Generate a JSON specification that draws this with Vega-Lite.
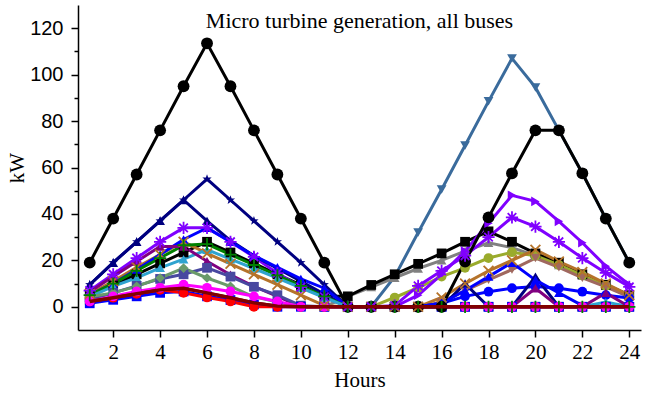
{
"$schema": "https://vega.github.io/schema/vega-lite/v6.json",
"width": 563, "height": 325,
"autosize": {"type": "none"},
"padding": {"left": 78, "top": 5, "right": 15, "bottom": 63},
"background": "white",
"title": {"text": "Micro turbine generation, all buses", "font": "Liberation Serif", "fontSize": 22, "fontWeight": "normal", "color": "black", "anchor": "middle", "frame": "group", "offset": -27, "dy": 18, "baseline": "alphabetic"},
"config": {"view": {"stroke": null}, "axis": {"grid": false, "domainColor": "black", "domainWidth": 1.5, "tickColor": "black", "tickWidth": 1.5, "labelColor": "black", "titleColor": "black"}},
"data": {"values": [
{"s":"SB","h":12,"v":0},{"s":"SB","h":13,"v":0},{"s":"SB","h":14,"v":13},{"s":"SB","h":15,"v":32},{"s":"SB","h":16,"v":50.5},{"s":"SB","h":17,"v":69.5},{"s":"SB","h":18,"v":88.5},{"s":"SB","h":19,"v":107},{"s":"SB","h":20,"v":94.5},{"s":"SB","h":21,"v":76},{"s":"SB","h":22,"v":57.5},{"s":"SB","h":23,"v":38},{"s":"SB","h":24,"v":19},
{"s":"GT","h":11,"v":0},{"s":"GT","h":12,"v":4.5},{"s":"GT","h":13,"v":8.5},{"s":"GT","h":14,"v":12.5},{"s":"GT","h":15,"v":16.5},{"s":"GT","h":16,"v":20},{"s":"GT","h":17,"v":24},{"s":"GT","h":18,"v":27.6},{"s":"GT","h":19,"v":25.5},{"s":"GT","h":20,"v":22},{"s":"GT","h":21,"v":18},{"s":"GT","h":22,"v":13.5},{"s":"GT","h":23,"v":9},{"s":"GT","h":24,"v":4.5},
{"s":"KS","h":1,"v":4.7},{"s":"KS","h":2,"v":9.4},{"s":"KS","h":3,"v":14},{"s":"KS","h":4,"v":18.7},{"s":"KS","h":5,"v":23.4},{"s":"KS","h":6,"v":28},{"s":"KS","h":7,"v":23.4},{"s":"KS","h":8,"v":18.7},{"s":"KS","h":9,"v":14},{"s":"KS","h":10,"v":9.4},{"s":"KS","h":11,"v":4.7},{"s":"KS","h":12,"v":4.5},{"s":"KS","h":13,"v":9.4},{"s":"KS","h":14,"v":14},{"s":"KS","h":15,"v":18.5},{"s":"KS","h":16,"v":23},{"s":"KS","h":17,"v":28},{"s":"KS","h":18,"v":32.5},{"s":"KS","h":19,"v":28},{"s":"KS","h":20,"v":23},{"s":"KS","h":21,"v":19},{"s":"KS","h":22,"v":14},{"s":"KS","h":23,"v":9.5},{"s":"KS","h":24,"v":5},
{"s":"OL","h":12,"v":0},{"s":"OL","h":13,"v":0},{"s":"OL","h":14,"v":4},{"s":"OL","h":15,"v":8.2},{"s":"OL","h":16,"v":13},{"s":"OL","h":17,"v":16.8},{"s":"OL","h":18,"v":21},{"s":"OL","h":19,"v":23.5},{"s":"OL","h":20,"v":22},{"s":"OL","h":21,"v":18},{"s":"OL","h":22,"v":13.5},{"s":"OL","h":23,"v":9},{"s":"OL","h":24,"v":4.5},
{"s":"RB","h":12,"v":0},{"s":"RB","h":13,"v":0},{"s":"RB","h":14,"v":0},{"s":"RB","h":15,"v":0},{"s":"RB","h":16,"v":2},{"s":"RB","h":17,"v":7},{"s":"RB","h":18,"v":11.6},{"s":"RB","h":19,"v":16},{"s":"RB","h":20,"v":21},{"s":"RB","h":21,"v":17},{"s":"RB","h":22,"v":12.5},{"s":"RB","h":23,"v":8.6},{"s":"RB","h":24,"v":4.3},
{"s":"BR","h":1,"v":5.6},{"s":"BR","h":2,"v":11},{"s":"BR","h":3,"v":17},{"s":"BR","h":4,"v":22.5},{"s":"BR","h":5,"v":28},{"s":"BR","h":6,"v":23},{"s":"BR","h":7,"v":18.5},{"s":"BR","h":8,"v":14},{"s":"BR","h":9,"v":9.5},{"s":"BR","h":10,"v":5},{"s":"BR","h":11,"v":0.5},{"s":"BR","h":12,"v":0},{"s":"BR","h":13,"v":0},{"s":"BR","h":14,"v":0},{"s":"BR","h":15,"v":0},{"s":"BR","h":16,"v":4},{"s":"BR","h":17,"v":10},{"s":"BR","h":18,"v":15.5},{"s":"BR","h":19,"v":20},{"s":"BR","h":20,"v":24.6},{"s":"BR","h":21,"v":19.5},{"s":"BR","h":22,"v":15},{"s":"BR","h":23,"v":10},{"s":"BR","h":24,"v":5},
{"s":"BC","h":12,"v":0},{"s":"BC","h":13,"v":0},{"s":"BC","h":14,"v":0},{"s":"BC","h":15,"v":0},{"s":"BC","h":16,"v":1.5},{"s":"BC","h":17,"v":4.5},{"s":"BC","h":18,"v":6.5},{"s":"BC","h":19,"v":8},{"s":"BC","h":20,"v":8.7},{"s":"BC","h":21,"v":8},{"s":"BC","h":22,"v":6.5},{"s":"BC","h":23,"v":5},{"s":"BC","h":24,"v":3.8},
{"s":"VT","h":12,"v":0},{"s":"VT","h":13,"v":0},{"s":"VT","h":14,"v":0},{"s":"VT","h":15,"v":5},{"s":"VT","h":16,"v":14},{"s":"VT","h":17,"v":24},{"s":"VT","h":18,"v":36},{"s":"VT","h":19,"v":48},{"s":"VT","h":20,"v":45.4},{"s":"VT","h":21,"v":36.8},{"s":"VT","h":22,"v":27.6},{"s":"VT","h":23,"v":17.5},{"s":"VT","h":24,"v":9.5},
{"s":"VA","h":1,"v":7},{"s":"VA","h":2,"v":14},{"s":"VA","h":3,"v":21},{"s":"VA","h":4,"v":28},{"s":"VA","h":5,"v":34},{"s":"VA","h":6,"v":34},{"s":"VA","h":7,"v":28},{"s":"VA","h":8,"v":21.5},{"s":"VA","h":9,"v":14.5},{"s":"VA","h":10,"v":8.5},{"s":"VA","h":11,"v":4.3},{"s":"VA","h":12,"v":0},{"s":"VA","h":13,"v":0},{"s":"VA","h":14,"v":0.5},{"s":"VA","h":15,"v":9},{"s":"VA","h":16,"v":15.5},{"s":"VA","h":17,"v":22},{"s":"VA","h":18,"v":30},{"s":"VA","h":19,"v":38.5},{"s":"VA","h":20,"v":34.5},{"s":"VA","h":21,"v":28},{"s":"VA","h":22,"v":21},{"s":"VA","h":23,"v":14.6},{"s":"VA","h":24,"v":8.6},
{"s":"NS","h":1,"v":9.5},{"s":"NS","h":2,"v":19},{"s":"NS","h":3,"v":28},{"s":"NS","h":4,"v":37},{"s":"NS","h":5,"v":46},{"s":"NS","h":6,"v":55},{"s":"NS","h":7,"v":46},{"s":"NS","h":8,"v":37},{"s":"NS","h":9,"v":28},{"s":"NS","h":10,"v":19},{"s":"NS","h":11,"v":9.5},{"s":"NS","h":12,"v":0},{"s":"NS","h":13,"v":0},{"s":"NS","h":14,"v":0},{"s":"NS","h":15,"v":0},{"s":"NS","h":16,"v":0},{"s":"NS","h":17,"v":0},{"s":"NS","h":18,"v":0},{"s":"NS","h":19,"v":0},{"s":"NS","h":20,"v":0},{"s":"NS","h":21,"v":0},{"s":"NS","h":22,"v":0},{"s":"NS","h":23,"v":0},{"s":"NS","h":24,"v":0},
{"s":"N2","h":1,"v":9.5},{"s":"N2","h":2,"v":19},{"s":"N2","h":3,"v":28},{"s":"N2","h":4,"v":37},{"s":"N2","h":5,"v":46},{"s":"N2","h":6,"v":37},{"s":"N2","h":7,"v":28.5},{"s":"N2","h":8,"v":22},{"s":"N2","h":9,"v":16.5},{"s":"N2","h":10,"v":11},{"s":"N2","h":11,"v":5.5},{"s":"N2","h":12,"v":0},{"s":"N2","h":13,"v":0},{"s":"N2","h":14,"v":0},{"s":"N2","h":15,"v":0},{"s":"N2","h":16,"v":0},{"s":"N2","h":17,"v":10},{"s":"N2","h":18,"v":0},{"s":"N2","h":19,"v":0},{"s":"N2","h":20,"v":13},{"s":"N2","h":21,"v":0},{"s":"N2","h":22,"v":0},{"s":"N2","h":23,"v":0},{"s":"N2","h":24,"v":0},
{"s":"BT","h":1,"v":5},{"s":"BT","h":2,"v":10},{"s":"BT","h":3,"v":16},{"s":"BT","h":4,"v":22.5},{"s":"BT","h":5,"v":29},{"s":"BT","h":6,"v":34},{"s":"BT","h":7,"v":28},{"s":"BT","h":8,"v":22},{"s":"BT","h":9,"v":17},{"s":"BT","h":10,"v":12},{"s":"BT","h":11,"v":8},{"s":"BT","h":12,"v":0},{"s":"BT","h":13,"v":0},{"s":"BT","h":14,"v":0},{"s":"BT","h":15,"v":0},{"s":"BT","h":16,"v":1.5},{"s":"BT","h":17,"v":7},{"s":"BT","h":18,"v":13},{"s":"BT","h":19,"v":19},{"s":"BT","h":20,"v":11.5},{"s":"BT","h":21,"v":6},{"s":"BT","h":22,"v":0.5},{"s":"BT","h":23,"v":0},{"s":"BT","h":24,"v":0},
{"s":"GR","h":1,"v":5},{"s":"GR","h":2,"v":10},{"s":"GR","h":3,"v":15.5},{"s":"GR","h":4,"v":21},{"s":"GR","h":5,"v":26.5},{"s":"GR","h":6,"v":27},{"s":"GR","h":7,"v":22.5},{"s":"GR","h":8,"v":18},{"s":"GR","h":9,"v":13.5},{"s":"GR","h":10,"v":9},{"s":"GR","h":11,"v":4.5},{"s":"GR","h":12,"v":0},{"s":"GR","h":13,"v":0},{"s":"GR","h":14,"v":0},{"s":"GR","h":15,"v":0},{"s":"GR","h":16,"v":0},{"s":"GR","h":17,"v":0},{"s":"GR","h":18,"v":0},{"s":"GR","h":19,"v":0},{"s":"GR","h":20,"v":0},{"s":"GR","h":21,"v":0},{"s":"GR","h":22,"v":0},{"s":"GR","h":23,"v":0},{"s":"GR","h":24,"v":0},
{"s":"CY","h":1,"v":4.3},{"s":"CY","h":2,"v":8.8},{"s":"CY","h":3,"v":12.5},{"s":"CY","h":4,"v":16.8},{"s":"CY","h":5,"v":20.5},{"s":"CY","h":6,"v":24.6},{"s":"CY","h":7,"v":20.5},{"s":"CY","h":8,"v":16.5},{"s":"CY","h":9,"v":12.3},{"s":"CY","h":10,"v":8.2},{"s":"CY","h":11,"v":4},{"s":"CY","h":12,"v":0},{"s":"CY","h":13,"v":0},{"s":"CY","h":14,"v":0},{"s":"CY","h":15,"v":0},{"s":"CY","h":16,"v":0},{"s":"CY","h":17,"v":0},{"s":"CY","h":18,"v":0},{"s":"CY","h":19,"v":0},{"s":"CY","h":20,"v":0},{"s":"CY","h":21,"v":0},{"s":"CY","h":22,"v":0},{"s":"CY","h":23,"v":2},{"s":"CY","h":24,"v":0},
{"s":"PU","h":1,"v":6.5},{"s":"PU","h":2,"v":13},{"s":"PU","h":3,"v":19.5},{"s":"PU","h":4,"v":26},{"s":"PU","h":5,"v":26},{"s":"PU","h":6,"v":19.6},{"s":"PU","h":7,"v":13.8},{"s":"PU","h":8,"v":8.8},{"s":"PU","h":9,"v":4.5},{"s":"PU","h":10,"v":0},{"s":"PU","h":11,"v":0},{"s":"PU","h":12,"v":0},{"s":"PU","h":13,"v":0},{"s":"PU","h":14,"v":0},{"s":"PU","h":15,"v":0},{"s":"PU","h":16,"v":0},{"s":"PU","h":17,"v":0},{"s":"PU","h":18,"v":0},{"s":"PU","h":19,"v":0},{"s":"PU","h":20,"v":8},{"s":"PU","h":21,"v":0},{"s":"PU","h":22,"v":0},{"s":"PU","h":23,"v":6},{"s":"PU","h":24,"v":0},
{"s":"SL","h":1,"v":3},{"s":"SL","h":2,"v":6},{"s":"SL","h":3,"v":9},{"s":"SL","h":4,"v":12},{"s":"SL","h":5,"v":14},{"s":"SL","h":6,"v":16.8},{"s":"SL","h":7,"v":13},{"s":"SL","h":8,"v":8.6},{"s":"SL","h":9,"v":5},{"s":"SL","h":10,"v":0.5},{"s":"SL","h":11,"v":0},{"s":"SL","h":12,"v":0},{"s":"SL","h":13,"v":0},{"s":"SL","h":14,"v":0},{"s":"SL","h":15,"v":0},{"s":"SL","h":16,"v":0},{"s":"SL","h":17,"v":0},{"s":"SL","h":18,"v":0},{"s":"SL","h":19,"v":0},{"s":"SL","h":20,"v":0},{"s":"SL","h":21,"v":0},{"s":"SL","h":22,"v":0},{"s":"SL","h":23,"v":0},{"s":"SL","h":24,"v":0},
{"s":"GD","h":1,"v":4.3},{"s":"GD","h":2,"v":6},{"s":"GD","h":3,"v":8.8},{"s":"GD","h":4,"v":12.4},{"s":"GD","h":5,"v":16.7},{"s":"GD","h":6,"v":12.4},{"s":"GD","h":7,"v":8.8},{"s":"GD","h":8,"v":4.3},{"s":"GD","h":9,"v":2},{"s":"GD","h":10,"v":0},{"s":"GD","h":11,"v":0},{"s":"GD","h":12,"v":0},{"s":"GD","h":13,"v":0},{"s":"GD","h":14,"v":0},{"s":"GD","h":15,"v":0},{"s":"GD","h":16,"v":0},{"s":"GD","h":17,"v":0},{"s":"GD","h":18,"v":0},{"s":"GD","h":19,"v":0},{"s":"GD","h":20,"v":0},{"s":"GD","h":21,"v":0},{"s":"GD","h":22,"v":0},{"s":"GD","h":23,"v":0},{"s":"GD","h":24,"v":0},
{"s":"BS","h":1,"v":1.5},{"s":"BS","h":2,"v":3},{"s":"BS","h":3,"v":4.5},{"s":"BS","h":4,"v":6},{"s":"BS","h":5,"v":6.6},{"s":"BS","h":6,"v":4.5},{"s":"BS","h":7,"v":2.9},{"s":"BS","h":8,"v":1},{"s":"BS","h":9,"v":0},{"s":"BS","h":10,"v":0},{"s":"BS","h":11,"v":0},{"s":"BS","h":12,"v":0},{"s":"BS","h":13,"v":0},{"s":"BS","h":14,"v":0},{"s":"BS","h":15,"v":0},{"s":"BS","h":16,"v":0},{"s":"BS","h":17,"v":0},{"s":"BS","h":18,"v":0},{"s":"BS","h":19,"v":0},{"s":"BS","h":20,"v":0},{"s":"BS","h":21,"v":0},{"s":"BS","h":22,"v":0},{"s":"BS","h":23,"v":0},{"s":"BS","h":24,"v":0},
{"s":"RD","h":1,"v":2.3},{"s":"RD","h":2,"v":3.9},{"s":"RD","h":3,"v":5.6},{"s":"RD","h":4,"v":7.3},{"s":"RD","h":5,"v":6},{"s":"RD","h":6,"v":4},{"s":"RD","h":7,"v":2.3},{"s":"RD","h":8,"v":0},{"s":"RD","h":9,"v":0},{"s":"RD","h":10,"v":0},{"s":"RD","h":11,"v":0},{"s":"RD","h":12,"v":0},{"s":"RD","h":13,"v":0},{"s":"RD","h":14,"v":0},{"s":"RD","h":15,"v":0},{"s":"RD","h":16,"v":0},{"s":"RD","h":17,"v":0},{"s":"RD","h":18,"v":0},{"s":"RD","h":19,"v":0},{"s":"RD","h":20,"v":0},{"s":"RD","h":21,"v":0},{"s":"RD","h":22,"v":0},{"s":"RD","h":23,"v":0},{"s":"RD","h":24,"v":0},
{"s":"MG","h":1,"v":2.3},{"s":"MG","h":2,"v":4.5},{"s":"MG","h":3,"v":6.6},{"s":"MG","h":4,"v":8.2},{"s":"MG","h":5,"v":9.5},{"s":"MG","h":6,"v":8.2},{"s":"MG","h":7,"v":6.6},{"s":"MG","h":8,"v":4.5},{"s":"MG","h":9,"v":2.3},{"s":"MG","h":10,"v":0},{"s":"MG","h":11,"v":0},{"s":"MG","h":12,"v":0},{"s":"MG","h":13,"v":0},{"s":"MG","h":14,"v":0},{"s":"MG","h":15,"v":0},{"s":"MG","h":16,"v":0},{"s":"MG","h":17,"v":0},{"s":"MG","h":18,"v":0},{"s":"MG","h":19,"v":0},{"s":"MG","h":20,"v":0},{"s":"MG","h":21,"v":0},{"s":"MG","h":22,"v":0},{"s":"MG","h":23,"v":0},{"s":"MG","h":24,"v":0},
{"s":"K1","h":1,"v":19},{"s":"K1","h":2,"v":38},{"s":"K1","h":3,"v":57},{"s":"K1","h":4,"v":76},{"s":"K1","h":5,"v":95},{"s":"K1","h":6,"v":113.5},{"s":"K1","h":7,"v":95},{"s":"K1","h":8,"v":76},{"s":"K1","h":9,"v":57},{"s":"K1","h":10,"v":38},{"s":"K1","h":11,"v":19},{"s":"K1","h":12,"v":0},{"s":"K1","h":13,"v":0},{"s":"K1","h":14,"v":0},{"s":"K1","h":15,"v":0},{"s":"K1","h":16,"v":0},{"s":"K1","h":17,"v":19.5},{"s":"K1","h":18,"v":38.5},{"s":"K1","h":19,"v":57.5},{"s":"K1","h":20,"v":76},{"s":"K1","h":21,"v":76},{"s":"K1","h":22,"v":57.5},{"s":"K1","h":23,"v":38},{"s":"K1","h":24,"v":19},
{"s":"DR","h":1,"v":2.3},{"s":"DR","h":2,"v":3.9},{"s":"DR","h":3,"v":5.6},{"s":"DR","h":4,"v":7.3},{"s":"DR","h":5,"v":8},{"s":"DR","h":6,"v":6},{"s":"DR","h":7,"v":3.9},{"s":"DR","h":8,"v":1.7},{"s":"DR","h":9,"v":0.3},{"s":"DR","h":10,"v":0},{"s":"DR","h":11,"v":0},{"s":"DR","h":12,"v":0},{"s":"DR","h":13,"v":0},{"s":"DR","h":14,"v":0},{"s":"DR","h":15,"v":0},{"s":"DR","h":16,"v":0},{"s":"DR","h":17,"v":0},{"s":"DR","h":18,"v":0},{"s":"DR","h":19,"v":0},{"s":"DR","h":20,"v":0},{"s":"DR","h":21,"v":0},{"s":"DR","h":22,"v":0},{"s":"DR","h":23,"v":0},{"s":"DR","h":24,"v":0}
]},
"encoding": {
"x": {"field": "h", "type": "quantitative", "scale": {"domain": [0.5, 24.5], "nice": false, "zero": false},
 "axis": {"values": [2,4,6,8,10,12,14,16,18,20,22,24], "title": "Hours", "titleFont": "Liberation Serif", "titleFontSize": 21, "titleFontWeight": "normal", "titlePadding": 7, "labelFont": "Liberation Serif", "labelFontSize": 21, "labelPadding": 4, "tickSize": 7, "labelFlush": false}},
"y": {"field": "v", "type": "quantitative", "scale": {"domain": [-10, 130], "nice": false, "zero": false},
 "axis": {"values": [0,10,20,30,40,50,60,70,80,90,100,110,120], "labelExpr": "datum.value % 20 === 0 ? datum.label : ''", "tickSize": {"condition": {"test": "datum.value % 20 === 0", "value": 7}, "value": 4}, "title": "kW", "titleFont": "Liberation Serif", "titleFontSize": 21, "titleFontWeight": "normal", "titlePadding": 2, "labelFont": "Liberation Sans", "labelFontSize": 20, "labelPadding": 8, "labelFlush": false}},
"color": {"field": "s", "type": "nominal", "legend": null,
 "scale": {"domain": ["SB","GT","KS","OL","RB","BR","BC","VT","VA","NS","N2","BT","GR","CY","PU","SL","GD","BS","RD","MG","K1","DR"],
 "range": ["#3a6b9c","#808080","#000000","#9aab2c","#a0685f","#b5732a","#0000ff","#8000ff","#8000ff","#000080","#000080","#0000ff","#008000","#2ea3cf","#800080","#4848a0","#6a9a6a","#0000ff","#ff0000","#ff00ff","#000000","#800000"]}}
},
"layer": [
{"mark": {"type": "line", "strokeWidth": 3}},
{"transform": [{"filter": {"not": {"field": "s", "oneOf": ["GR","DR","VA","BR"]}}}],
 "mark": {"type": "point", "filled": true, "opacity": 1},
 "encoding": {
  "shape": {"field": "s", "type": "nominal", "legend": null,
   "scale": {"domain": ["SB","GT","KS","OL","RB","BR","BC","VT","VA","NS","N2","BT","GR","CY","PU","SL","GD","BS","RD","MG","K1","DR"],
   "range": ["triangle-down","triangle-up","square","circle","triangle-down","M-0.8,-0.8L0.8,0.8M-0.8,0.8L0.8,-0.8","circle","triangle-right","M-1,0L1,0M0,-1L0,1M-0.7,-0.7L0.7,0.7M-0.7,0.7L0.7,-0.7","M0,-1L0.24,-0.33L0.95,-0.31L0.38,0.12L0.59,0.81L0,0.4L-0.59,0.81L-0.38,0.12L-0.95,-0.31L-0.24,-0.33Z","triangle-up","triangle-up","M-1,0L1,0M0,-1L0,1","triangle-up","triangle-up","square","diamond","square","circle","circle","circle","circle"]}},
  "size": {"condition": {"test": "datum.s === 'K1'", "value": 140}, "value": 95}}},
{"transform": [{"filter": {"field": "s", "oneOf": ["VA","BR","GR"]}}],
 "mark": {"type": "point", "filled": false, "strokeWidth": 1.8, "opacity": 1},
 "encoding": {
  "shape": {"field": "s", "type": "nominal", "legend": null,
   "scale": {"domain": ["SB","GT","KS","OL","RB","BR","BC","VT","VA","NS","N2","BT","GR","CY","PU","SL","GD","BS","RD","MG","K1","DR"],
   "range": ["triangle-down","triangle-up","square","circle","triangle-down","M-0.8,-0.8L0.8,0.8M-0.8,0.8L0.8,-0.8","circle","triangle-right","M-1,0L1,0M0,-1L0,1M-0.7,-0.7L0.7,0.7M-0.7,0.7L0.7,-0.7","M0,-1L0.24,-0.33L0.95,-0.31L0.38,0.12L0.59,0.81L0,0.4L-0.59,0.81L-0.38,0.12L-0.95,-0.31L-0.24,-0.33Z","triangle-up","triangle-up","M-1,0L1,0M0,-1L0,1","triangle-up","triangle-up","square","diamond","square","circle","circle","circle","circle"]}},
  "size": {"value": 150}}},
{"transform": [{"filter": {"field": "s", "equal": "DR"}}],
 "mark": {"type": "line", "strokeWidth": 3.4}}
]
}
